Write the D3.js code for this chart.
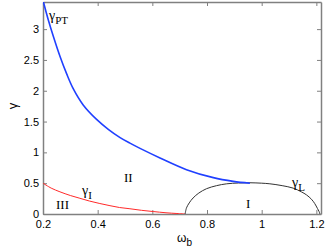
<!DOCTYPE html>
<html>
<head>
<meta charset="utf-8">
<script src="https://cdn.jsdelivr.net/npm/d3@7"></script>
<style>
  body { margin: 0; background: #fff; }
  .tick text { font-family: 'Liberation Sans', Arial, sans-serif; font-size: 11px; fill: #000; }
  .note { font-family: 'Liberation Serif', 'Times New Roman', serif; fill: #000; }
</style>
</head>
<body>
<svg id="chart"></svg>
<script>
// values: [omega_b, gamma]
const gammaPT = [
  [0.200, 3.47], [0.204, 3.40], [0.220, 3.14], [0.238, 2.88], [0.262, 2.56],
  [0.287, 2.27], [0.311, 2.03], [0.347, 1.77], [0.396, 1.535], [0.440, 1.37],
  [0.482, 1.24], [0.518, 1.15], [0.555, 1.065], [0.628, 0.91], [0.725, 0.72],
  [0.823, 0.59], [0.896, 0.53], [0.957, 0.50]
];
const gammaI = [
  [0.200, 0.50], [0.230, 0.42], [0.262, 0.36], [0.300, 0.30], [0.335, 0.255],
  [0.370, 0.21], [0.408, 0.17], [0.445, 0.135], [0.480, 0.105], [0.518, 0.085],
  [0.560, 0.06], [0.603, 0.04], [0.650, 0.02], [0.690, 0.008], [0.720, 0.0]
];
const gammaL = [
  [0.720, 0.00], [0.725, 0.10], [0.735, 0.18], [0.749, 0.26], [0.770, 0.34],
  [0.798, 0.41], [0.835, 0.46], [0.872, 0.49], [0.915, 0.503], [0.957, 0.507],
  [1.000, 0.50], [1.030, 0.49], [1.075, 0.46], [1.115, 0.42], [1.145, 0.36],
  [1.164, 0.31], [1.182, 0.24], [1.194, 0.17], [1.204, 0.09], [1.210, 0.04],
  [1.213, 0.00]
];
const xTicks = [0.2, 0.4, 0.6, 0.8, 1, 1.2];
const yTicks = [0, 0.5, 1, 1.5, 2, 2.5, 3];

const w = 327;
const h = 252;
const margin = { top: 2, right: 6, bottom: 38, left: 43 };

const svg = d3.select('#chart').attr('width', w).attr('height', h);

const x = d3.scaleLinear().domain([0.2, 1.217]).range([margin.left, w - margin.right]);
const y = d3.scaleLinear().domain([0, 3.44]).range([h - margin.bottom, margin.top]);

const frame = '#808080';

svg.append('defs').append('clipPath').attr('id', 'clip')
  .append('rect')
  .attr('x', margin.left).attr('y', margin.top)
  .attr('width', x.range()[1] - margin.left)
  .attr('height', y.range()[0] - margin.top);

// axes, ticks inward like matlab, mirrored on top/right
const fmt = d => String(d);
const gx = svg.append('g').attr('transform', `translate(0,${y(0)})`)
  .call(d3.axisBottom(x).tickValues(xTicks).tickFormat(fmt).tickSizeInner(-4).tickSizeOuter(0).tickPadding(8));
const gxTop = svg.append('g').attr('transform', `translate(0,${y.range()[1]})`)
  .call(d3.axisTop(x).tickValues(xTicks).tickFormat('').tickSizeInner(-4).tickSizeOuter(0));
const gy = svg.append('g').attr('transform', `translate(${margin.left},0)`)
  .call(d3.axisLeft(y).tickValues(yTicks).tickFormat(fmt).tickSizeInner(-4).tickSizeOuter(0).tickPadding(4));
const gyRight = svg.append('g').attr('transform', `translate(${x.range()[1]},0)`)
  .call(d3.axisRight(y).tickValues(yTicks).tickFormat('').tickSizeInner(-4).tickSizeOuter(0));

[gx, gxTop, gy, gyRight].forEach(g => {
  g.select('.domain').attr('stroke', frame).attr('stroke-width', 1.5);
  g.selectAll('.tick line').attr('stroke', frame);
});
gx.selectAll('.tick text').attr('dy', '0.55em');

const line = d3.line()
  .x(d => x(d[0]))
  .y(d => y(d[1]))
  .curve(d3.curveCatmullRom.alpha(0.5));

const plot = svg.append('g').attr('clip-path', 'url(#clip)');

plot.append('path').datum(gammaI)
  .attr('d', line).attr('fill', 'none').attr('stroke', '#ff2a2a').attr('stroke-width', 1);
plot.append('path').datum(gammaL)
  .attr('d', line).attr('fill', 'none').attr('stroke', '#333').attr('stroke-width', 1);
plot.append('path').datum(gammaPT)
  .attr('d', line).attr('fill', 'none').attr('stroke', '#2040ff').attr('stroke-width', 1.6);

// region labels and curve names
function sub(xp, yp, main, s) {
  const t = svg.append('text').attr('class', 'note').attr('x', xp).attr('y', yp).attr('font-size', 14);
  t.append('tspan').text(main);
  t.append('tspan').attr('dy', 4).attr('font-size', 11).text(s);
}
sub(49, 20, 'γ', 'PT');
sub(82, 195, 'γ', 'I');
sub(292, 187, 'γ', 'L');

svg.append('text').attr('class', 'note').attr('x', 124).attr('y', 182).attr('font-size', 13).text('II');
svg.append('text').attr('class', 'note').attr('x', 56).attr('y', 209).attr('font-size', 13).text('III');
svg.append('text').attr('class', 'note').attr('x', 246).attr('y', 208).attr('font-size', 13).text('I');

// axis labels
const lab = svg.append('text')
  .attr('x', 177).attr('y', 242)
  .style('font-family', "'Liberation Sans', Arial, sans-serif").attr('font-size', 12);
lab.append('tspan').text('ω');
lab.append('tspan').attr('dy', 4).attr('font-size', 10).text('b');

svg.append('text')
  .attr('transform', 'translate(17,106) rotate(-90)')
  .attr('text-anchor', 'middle')
  .style('font-family', "'Liberation Sans', Arial, sans-serif").attr('font-size', 13)
  .text('γ');
</script>
</body>
</html>
